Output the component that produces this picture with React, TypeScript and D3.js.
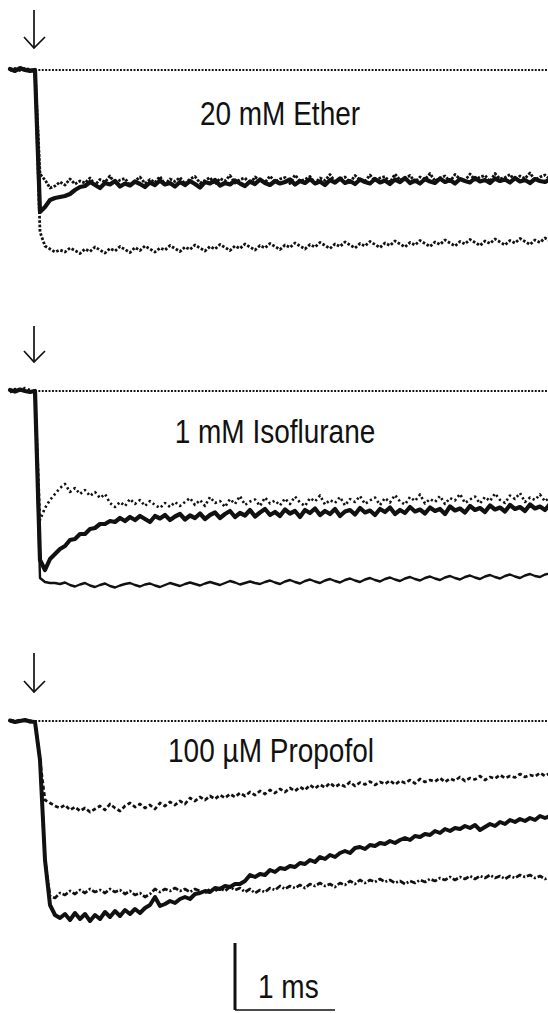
import React from 'react';
import * as d3 from 'd3';

const WIDTH = 548;
const HEIGHT = 1013;

// every trace is sampled on the same grid: ms, solution step at t = 0
const T_START = -0.25;
const T_STEP = 0.05;

// current in pA (inward negative)
const etherThick = [
  2, -2, 4, 0, -2, 0,
  -284, -274, -260, -256, -254, -252, -248, -240, -234,
  -232, -224, -230, -236, -226, -229, -222, -233, -227, -231, -223, -228, -234, -225, -230, -221, -229, -226, -233, -224,
  -230, -222, -228, -235, -224, -227, -220, -231, -226, -229, -221, -227, -232, -223, -228, -219, -226, -230, -222, -227,
  -224, -219, -229, -222, -226, -218, -227, -223, -230, -220, -225, -217, -226, -222, -228, -219, -224, -227, -218, -225,
  -221, -228, -219, -224, -216, -226, -221, -227, -218, -223, -226, -217, -224, -220, -227, -218, -222, -225, -216, -223,
  -220, -226, -217, -222, -219, -225, -216, -223, -220, -226, -218, -222, -224, -219,
];
const etherUpper = [
  0, 3, -1, 2, 0, 1,
  -208, -220, -236, -232, -224, -230, -218, -228, -222,
  -226, -216, -230, -219, -224, -212, -228, -220, -217, -231, -222, -214, -227, -219, -225, -213, -229, -218, -223, -215,
  -228, -218, -213, -226, -221, -215, -229, -217, -222, -211, -226, -219, -216, -228, -214, -221, -225, -212, -224, -218,
  -215, -227, -210, -222, -219, -213, -226, -216, -221, -209, -224, -218, -214, -225, -211, -220, -223, -210, -222, -216,
  -213, -225, -208, -220, -217, -211, -224, -214, -219, -207, -222, -216, -212, -223, -209, -218, -221, -208, -220, -214,
  -211, -223, -207, -218, -215, -209, -222, -212, -217, -206, -220, -214, -210, -219,
];
const etherLower = [
  -1, 2, 0, 3, 1, 0,
  -324, -352, -358, -364, -360,
  -364, -356, -361, -367, -358, -363, -354, -360, -366, -357, -362, -353, -359, -365, -355, -361, -352, -358, -364, -356,
  -360, -351, -357, -363, -354, -359, -350, -356, -362, -353, -358, -349, -355, -361, -352, -357, -348, -354, -360, -351,
  -356, -347, -353, -359, -350, -355, -346, -352, -358, -349, -354, -345, -351, -357, -348, -353, -344, -350, -356, -347,
  -352, -343, -349, -355, -346, -351, -342, -348, -354, -345, -350, -341, -347, -353, -344, -349, -340, -346, -352, -343,
  -348, -339, -345, -351, -342, -347, -338, -344, -350, -341, -346, -337, -343, -349, -340, -345, -336, -342,
];

const isoThick = [
  2, -1, 3, 0, -2, 0,
  -338, -358, -336, -326, -316, -310, -298, -296, -286, -286, -276, -274, -266, -266, -260, -262,
  -254, -260, -252, -258, -250, -256, -262, -250, -255, -248, -258, -251, -246, -257, -249, -254, -245, -256, -248, -243,
  -254, -246, -240, -252, -244, -249, -238, -251, -243, -236, -248, -242, -250, -237, -245, -240, -252, -238, -244, -235,
  -248, -240, -246, -236, -250, -241, -238, -247, -234, -243, -239, -248, -236, -242, -233, -246, -238, -244, -232, -241,
  -237, -245, -233, -240, -236, -246, -231, -239, -235, -243, -230, -238, -234, -242, -229, -237, -233, -241, -228, -236,
  -232, -240, -227, -235, -231, -238, -226,
];
const isoDotted = [
  -3, 4, 1, 6, 2, 0,
  -258, -234, -218, -206, -194, -186, -202, -194, -206, -198, -210, -202, -214, -206, -224, -232, -222, -230, -216, -226,
  -218, -230, -220, -228, -234, -224, -232, -222, -230,
  -222, -214, -228, -218, -230, -212, -224, -220, -232, -216, -226, -210, -228, -221, -217, -230, -213, -225, -219, -229,
  -215, -226, -211, -223, -230, -214, -221, -209, -227, -218, -224, -212, -229, -216, -222, -210, -226, -219, -213, -228,
  -214, -223, -208, -221, -227, -212, -220, -207, -225, -216, -222, -210, -226, -214, -219, -206, -224, -217, -211, -225,
  -212, -220, -205, -218, -224, -209, -216, -204, -222, -213, -218, -207, -221, -212,
];
const isoLower = [
  1, -2, 2, 0, -1, 0,
  -374, -382, -384,
  -384, -386, -383, -388, -391, -387, -384, -389, -392, -388, -385, -390, -393, -389, -386, -384, -388, -391, -387, -385,
  -389, -392, -388, -384, -387, -390, -386, -383, -386, -389, -385, -382, -385, -388, -384, -380, -383, -387, -384, -381,
  -384, -386, -382, -379, -383, -386, -381, -378, -382, -385, -380, -377, -381, -384, -379, -376, -380, -383, -378, -375,
  -379, -382, -377, -374, -378, -381, -376, -373, -377, -380, -375, -372, -376, -379, -374, -371, -375, -378, -373, -370,
  -374, -377, -372, -369, -373, -376, -371, -368, -372, -375, -370, -367, -371, -374, -369, -366, -370, -372, -367, -365,
];

const propThick = [
  1, -2, 0, 2, -1, -2,
  -78, -278, -368, -388, -394, -386, -398, -384, -396, -386, -400, -388, -396, -382, -392, -380, -390, -378, -386, -376,
  -384, -374, -368, -352, -370, -366, -360, -364, -356, -352, -356, -346, -344, -340, -342, -334, -336, -330, -332, -326,
  -326, -320, -308, -312, -306, -308, -298, -302, -294, -296, -290, -292, -284, -286, -278, -282, -272, -276, -268, -272,
  -264, -260, -264, -254, -252, -256, -248, -250, -244, -246, -240, -244, -238, -234, -238, -230, -232, -226, -228, -220,
  -224, -216, -220, -214, -216, -210, -214, -208, -218, -212, -206, -210, -202, -206, -198, -202, -196, -200, -194, -198,
  -190, -194, -190,
];
const propUpper = [
  0, 2, -1, 1, -2, 0,
  -78, -158, -164, -170, -174, -168, -178, -172, -180, -174, -182, -176, -170, -178, -166, -174, -180, -170, -164, -172,
  -166, -174, -168, -176, -164, -170, -162, -168, -160, -166, -154, -160, -152, -158, -150, -156, -148, -154, -146, -152,
  -144, -150, -142, -148, -140, -146, -138, -144, -136, -142, -134, -140, -132, -138,
  -128, -135, -127, -133, -124, -132, -126, -131, -122, -130, -123, -127, -121, -128, -122, -126, -119, -127, -120, -124,
  -118, -125, -116, -122, -118, -121, -114, -122, -115, -119, -112, -120, -114, -117, -110, -118, -112, -115, -108, -114,
  -110, -113, -106, -112, -108, -111, -104, -110, -104,
];
const propLower = [
  0, -1, 2, 0, 1, -1,
  -78, -278, -350, -354, -344, -348, -340, -346, -338, -344, -336, -342, -338, -344, -336, -342, -338, -346, -340, -348,
  -344, -352, -346, -336, -342, -336, -340, -334, -340, -336, -342, -336, -340, -344, -336, -340, -334, -340, -332, -338,
  -334, -342, -336, -344, -338, -342, -334, -338, -330, -336, -330, -334, -328, -334, -326, -330, -324, -330, -326, -332,
  -324, -328, -320, -326, -318, -324, -318, -322, -316, -322, -318, -324, -320, -326, -320, -324, -318, -322, -316, -320,
  -314, -318, -312, -318, -312, -316, -310, -316, -310, -314, -308, -314, -310, -316, -310, -314, -308, -312, -308, -314,
  -310, -316, -312,
];

const panels = [
  {
    label: '20 mM Ether', labelX: 280, labelY: 125,
    base: 70, arrowTop: 10, arrowBottom: 48,
    traces: [
      { values: etherLower, width: 2.8, dash: '2.6 1.8' },
      { values: etherUpper, width: 2.8, dash: '2.6 1.5' },
      { values: etherThick, width: 4.2, dash: null },
    ],
  },
  {
    label: '1 mM Isoflurane', labelX: 275, labelY: 443,
    base: 391, arrowTop: 326, arrowBottom: 362,
    traces: [
      { values: isoLower, width: 2.4, dash: null },
      { values: isoDotted, width: 2.6, dash: '2.2 2.8' },
      { values: isoThick, width: 4.2, dash: null },
    ],
  },
  {
    label: '100 \u00B5M Propofol', labelX: 271, labelY: 762,
    base: 721, arrowTop: 653, arrowBottom: 692,
    traces: [
      { values: propUpper, width: 2.7, dash: '4 2.5' },
      { values: propLower, width: 2.7, dash: '6 2 2 2' },
      { values: propThick, width: 4, dash: null },
    ],
  },
];

const SCALE_BAR_MS = 1;
const SCALE_BAR_PA = 134;

export default function App() {
  const time = d3.range(etherThick.length).map(i => T_START + i * T_STEP);
  const x = d3.scaleLinear().domain([0, 1]).range([35, 135]);
  const font = '"Liberation Sans", Arial, Helvetica, sans-serif';

  const barY = d3.scaleLinear().domain([0, 100]).range([1010, 960]);
  const barX0 = x(2);

  return (
    <svg
      width={WIDTH}
      height={HEIGHT}
      style={{ position: 'absolute', left: 0, top: 0, background: '#fff' }}
    >
      {panels.map(p => {
        // 100 pA = 50 px in every panel
        const y = d3.scaleLinear().domain([0, -100]).range([p.base, p.base + 50]);
        const line = d3.line<number>()
          .x((_, i) => x(time[i]))
          .y(v => y(v));
        const ax = x(0) - 1;
        return (
          <g key={p.label}>
            <line
              x1={x(0)} x2={WIDTH} y1={y(0)} y2={y(0)}
              stroke="#111" strokeWidth={1.9} strokeDasharray="1.9 1.5"
            />
            {p.traces.map((t, k) => (
              <path
                key={k}
                d={line(t.values) || ''}
                fill="none"
                stroke="#111"
                strokeWidth={t.width}
                strokeDasharray={t.dash || undefined}
                strokeLinejoin="round"
                strokeLinecap={t.dash ? 'butt' : 'round'}
              />
            ))}
            <g stroke="#111" strokeWidth={1.7} fill="none">
              <line x1={ax} x2={ax} y1={p.arrowTop} y2={p.arrowBottom} />
              <polyline points={`${ax - 10},${p.arrowBottom - 11} ${ax},${p.arrowBottom} ${ax + 11},${p.arrowBottom - 11}`} />
            </g>
            <text
              transform={`translate(${p.labelX},${p.labelY}) scale(1,1.2)`}
              textAnchor="middle"
              fontFamily={font}
              fontSize={28}
              fill="#111"
            >
              {p.label}
            </text>
          </g>
        );
      })}
      <g stroke="#111" fill="none">
        <line x1={barX0} x2={barX0} y1={barY(0)} y2={barY(SCALE_BAR_PA)} strokeWidth={3} />
        <line x1={barX0} x2={x(2 + SCALE_BAR_MS)} y1={barY(0)} y2={barY(0)} strokeWidth={1.5} />
      </g>
      <text
        transform={`translate(${barX0 + 23},998) scale(1,1.2)`}
        fontFamily={font}
        fontSize={28}
        fill="#111"
      >
        1 ms
      </text>
    </svg>
  );
}
